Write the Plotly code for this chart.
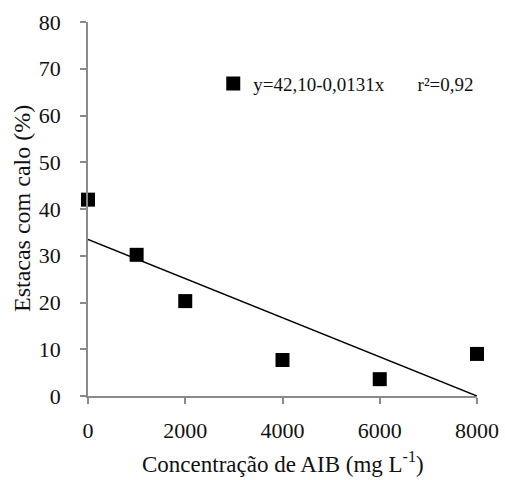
import plotly.graph_objects as go

conc = [0, 1000, 2000, 4000, 6000, 8000]
calo = [42.0, 30.2, 20.3, 7.7, 3.6, 9.0]
trend_x = [0, 8000]
trend_y = [33.5, 0.0]
x_ticks = [0, 2000, 4000, 6000, 8000]
y_ticks = [0, 10, 20, 30, 40, 50, 60, 70, 80]
legend_label = "y=42,10-0,0131x       r²=0,92"

font_fam = "Liberation Serif, Times New Roman, serif"

fig = go.Figure()
fig.add_trace(go.Scatter(
    x=trend_x, y=trend_y, mode="lines",
    line=dict(color="black", width=1.5), showlegend=False, hoverinfo="skip",
    cliponaxis=False))
fig.add_trace(go.Scatter(
    x=conc, y=calo, mode="markers", name=legend_label,
    marker=dict(symbol="square", size=14, color="black"),
    cliponaxis=False))

axis_common = dict(
    showgrid=False, zeroline=False, showline=True, linecolor="#8a8a8a", linewidth=1.5,
    ticks="outside", ticklen=6, tickcolor="#8a8a8a", tickwidth=1.5,
    tickfont=dict(family=font_fam, size=22, color="#111"),
    automargin=False,
)
fig.update_xaxes(range=[0, 8000], tickvals=x_ticks,
                 ticklabelstandoff=8, **axis_common)
fig.update_yaxes(range=[0, 80], tickvals=y_ticks,
                 ticklabelstandoff=15, **axis_common)

fig.add_annotation(text="Estacas com calo (%)", textangle=-90,
                   xref="paper", yref="paper", x=(22 - 88) / 389, y=0.5,
                   xanchor="center", yanchor="middle", showarrow=False,
                   font=dict(family=font_fam, size=24, color="#111"))
fig.add_annotation(text="Concentração de AIB (mg L<sup>-1</sup>)",
                   xref="paper", yref="paper", x=(283 - 88) / 389, y=-(479 - 396) / 374,
                   xanchor="center", yanchor="bottom", showarrow=False,
                   font=dict(family=font_fam, size=23, color="#111"))

fig.update_layout(
    width=505, height=480,
    margin=dict(l=88, r=28, t=22, b=84),
    plot_bgcolor="white", paper_bgcolor="white",
    legend=dict(x=0.322, y=0.835, xanchor="left", yanchor="middle",
                font=dict(family=font_fam, size=19, color="#111"),
                bgcolor="rgba(0,0,0,0)", itemwidth=30),
)
fig.write_html("out.html")
